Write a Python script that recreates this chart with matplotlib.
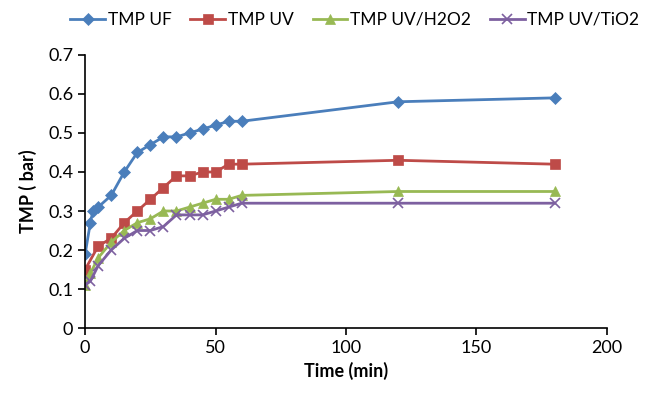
import matplotlib.pyplot as plt
import numpy as np

plt.rcParams['font.family'] = ['Lato', 'DejaVu Sans']

# Tiempos de muestreo (min)
t_uf = [0, 2, 3, 5, 10, 15, 20, 25, 30, 35, 40, 45, 50, 55, 60, 120, 180]
t_uv = [0, 5, 10, 15, 20, 25, 30, 35, 40, 45, 50, 55, 60, 120, 180]
t_h2o2 = [0, 2, 5, 10, 15, 20, 25, 30, 35, 40, 45, 50, 55, 60, 120, 180]
t_tio2 = [0, 2, 5, 10, 15, 20, 25, 30, 35, 40, 45, 50, 55, 60, 120, 180]

# TMP (bar)
tmp_uf = [0.19, 0.27, 0.30, 0.31, 0.34, 0.40, 0.45, 0.47, 0.49, 0.49, 0.50,
          0.51, 0.52, 0.53, 0.53, 0.58, 0.59]
tmp_uv = [0.15, 0.21, 0.23, 0.27, 0.30, 0.33, 0.36, 0.39, 0.39, 0.40, 0.40,
          0.42, 0.42, 0.43, 0.42]
tmp_h2o2 = [0.11, 0.14, 0.18, 0.22, 0.25, 0.27, 0.28, 0.30, 0.30, 0.31, 0.32,
            0.33, 0.33, 0.34, 0.35, 0.35]
tmp_tio2 = [0.11, 0.12, 0.16, 0.20, 0.23, 0.25, 0.25, 0.26, 0.29, 0.29, 0.29,
            0.30, 0.31, 0.32, 0.32, 0.32]

series = [
    ('TMP UF', t_uf, tmp_uf, '#4A7EBB', 'D', 6.5),
    ('TMP UV', t_uv, tmp_uv, '#BE4B48', 's', 7),
    ('TMP UV/H2O2', t_h2o2, tmp_h2o2, '#98B954', '^', 7.5),
    ('TMP UV/TiO2', t_tio2, tmp_tio2, '#7D60A0', 'x', 7),
]

fig = plt.figure(figsize=(6.45, 4.04), dpi=100)
ax = fig.add_axes([0.132, 0.188, 0.809, 0.676])

for nombre, t, y, color, marcador, tam in series:
    ax.plot(t, y, color=color, lw=2, marker=marcador, ms=tam,
            mew=1.2 if marcador == 'x' else 0.5, mec=color, mfc=color,
            label=nombre)

ax.set_xlim(0, 200)
ax.set_ylim(0, 0.7)
ax.set_xticks(np.arange(0, 201, 50))
ax.set_yticks(np.arange(0, 0.71, 0.1))
ax.set_yticklabels(['0', '0.1', '0.2', '0.3', '0.4', '0.5', '0.6', '0.7'])
ax.spines['top'].set_visible(False)
ax.spines['right'].set_visible(False)
ax.spines['left'].set_linewidth(1.2)
ax.spines['bottom'].set_linewidth(1.2)
ax.tick_params(direction='out', length=5, width=1.2, labelsize=13)
ax.set_xlabel('Time (min)', fontsize=13, fontweight='bold')
ax.set_ylabel('TMP ( bar)', fontsize=13, fontweight='bold', labelpad=8)

fig.legend(loc='upper center', bbox_to_anchor=(0.55, 1.01), ncol=4,
           frameon=False, fontsize=12.5, handlelength=2.0, handletextpad=0.15,
           columnspacing=1.1)

plt.savefig('out.png', dpi=100)
